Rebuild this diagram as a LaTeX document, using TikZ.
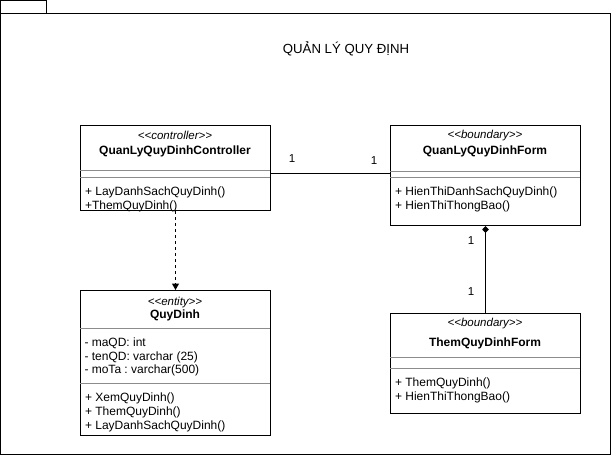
\documentclass[tikz,border=0pt]{standalone}
\usepackage{fontspec}
\setmainfont{Liberation Sans}
\frenchspacing
\newcommand{\stq}[1]{{<}{<}#1{>}{>}}
\usetikzlibrary{arrows.meta}
\begin{document}
\begin{tikzpicture}[x=1pt,y=-1pt,
  line width=1pt,
  cls/.style={draw, line width=1pt, inner sep=0pt, anchor=north west, minimum width=190pt},
  sepline/.style={draw=black!45, line width=1pt},
  stereo/.style={font=\fontsize{11.5}{13}\selectfont\itshape, inner sep=0pt, anchor=base},
  cname/.style={font=\fontsize{12}{14}\selectfont\bfseries, inner sep=0pt, anchor=base},
  member/.style={font=\fontsize{12}{14}\selectfont, inner sep=0pt, anchor=base west},
  mult/.style={font=\fontsize{11.5}{13}\selectfont, inner sep=0pt},
  titlefont/.style={font=\fontsize{13.2}{15}\selectfont, inner sep=0pt}
]
\useasboundingbox (0,0) rectangle (612,457);
% package frame
\draw (0.5,0.5) rectangle (46,14);
\draw (0.5,14) rectangle (610,454);
\node[titlefont] (title) at (346,49) {QUẢN LÝ QUY ĐỊNH};

% controller
\node[cls, minimum height=85pt] (ctrl) at (80,125) {};
\draw[sepline] (80,170) -- (270,170);
\draw[sepline] (80,177) -- (270,177);
\node[stereo] at (175,140) {\stq{controller}};
\node[cname] at (175,154.3) {QuanLyQuyDinhController};
\node[member] at (84.5,195.3) {+ LayDanhSachQuyDinh()};
\node[member] at (84.5,209) {+ThemQuyDinh()};

% form
\node[cls, minimum height=100pt] (form) at (390,125) {};
\draw[sepline] (390,171) -- (580,171);
\draw[sepline] (390,177) -- (580,177);
\node[stereo] at (485,138.5) {\stq{boundary}};
\node[cname] at (485,154.8) {QuanLyQuyDinhForm};
\node[member] at (394.5,195) {+ HienThiDanhSachQuyDinh()};
\node[member] at (394.5,209) {+ HienThiThongBao()};

% entity
\node[cls, minimum height=144.5pt] (qd) at (80,290) {};
\draw[sepline] (80,328.5) -- (270,328.5);
\draw[sepline] (80,383.5) -- (270,383.5);
\node[stereo] at (175,305.5) {\stq{entity}};
\node[cname] at (175,318.8) {QuyDinh};
\node[member] at (84,346) {- maQD: int};
\node[member] at (84,360) {- tenQD: varchar (25)};
\node[member] at (84,373.5) {- moTa : varchar(500)};
\node[member] at (84.5,401) {+ XemQuyDinh()};
\node[member] at (84.5,415.3) {+ ThemQuyDinh()};
\node[member] at (84.5,429.8) {+ LayDanhSachQuyDinh()};

% them form
\node[cls, minimum height=99.5pt] (them) at (390,313) {};
\draw[sepline] (390,357) -- (580,357);
\draw[sepline] (390,368) -- (580,368);
\node[stereo] at (485,326.5) {\stq{boundary}};
\node[cname] at (485,346.5) {ThemQuyDinhForm};
\node[member] at (394.5,386.3) {+ ThemQuyDinh()};
\node[member] at (394.5,400.8) {+ HienThiThongBao()};

% connectors
\draw (ctrl.east |- 0,173) -- (form.west |- 0,173);
\node[mult] at (292,159) {1};
\node[mult] at (374,160.5) {1};

\draw[{Diamond[width=6.5pt,length=7pt]}-] (form.south) -- (them.north);
\node[mult] at (471,241) {1};
\node[mult] at (471,292) {1};

\draw[dash pattern=on 3pt off 3pt, -{Triangle[width=7pt,length=6.5pt]}] (ctrl.south) -- (qd.north);
\end{tikzpicture}
\end{document}
